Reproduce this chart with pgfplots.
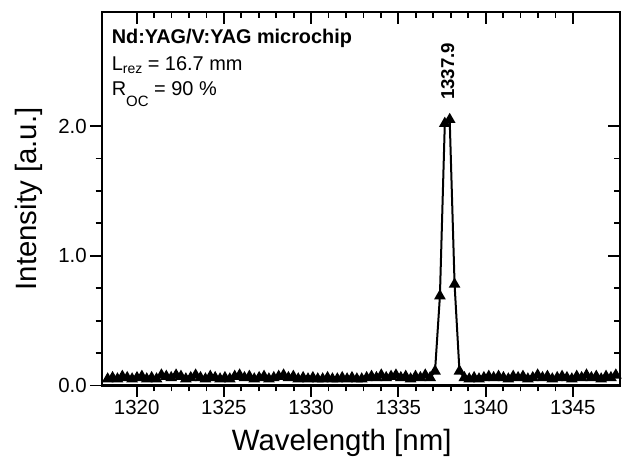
\documentclass[border=0pt]{standalone}
\usepackage{pgfplots}
\pgfplotsset{compat=1.18}
\usepackage{graphicx}
\usepackage{fontspec}
\setmainfont{Liberation Sans}

\pgfplotsset{
  common/.style={
    scale only axis, width=518bp, height=373bp,
    xmin=1318, xmax=1347.7, ymin=0, ymax=2.877,
    xtick={1320,1325,1330,1335,1340,1345}, minor x tick num=4,
    ytick={0,1,2}, minor y tick num=3,
    axis line style={line width=2.2bp},
    every tick/.style={line width=1.8bp, black},
    major tick length=11.5bp, minor tick length=6bp,
  }
}

\begin{document}
\begin{tikzpicture}
\begin{axis}[common,
  tick align=outside, xtick pos=bottom, ytick pos=left,
  /pgf/number format/assume math mode=true,
  /pgf/number format/1000 sep={},
  tick label style={font=\fontsize{20.5}{24}\selectfont},
  yticklabel style={/pgf/number format/fixed, /pgf/number format/fixed zerofill, /pgf/number format/precision=1},
  xlabel={Wavelength [nm]}, ylabel={Intensity [a.u.]},
  label style={font=\fontsize{29.5}{34}\selectfont, inner sep=0pt},
  xlabel style={at={(axis description cs:0.463,-0.173)}, anchor=base},
  ylabel style={at={(axis description cs:-0.1133,0.5)}, anchor=south},
  clip=false]
\addplot[black, line width=2bp, mark=triangle*, mark size=4.8bp, mark options={solid}] table {
x y
1318.34 0.05
1318.62 0.06
1318.90 0.05
1319.18 0.07
1319.46 0.06
1319.74 0.05
1320.02 0.06
1320.30 0.07
1320.58 0.05
1320.86 0.06
1321.14 0.05
1321.42 0.08
1321.70 0.07
1321.98 0.06
1322.26 0.08
1322.54 0.07
1322.82 0.05
1323.10 0.06
1323.38 0.08
1323.66 0.06
1323.94 0.05
1324.22 0.07
1324.50 0.06
1324.78 0.05
1325.06 0.06
1325.34 0.05
1325.62 0.07
1325.90 0.08
1326.18 0.06
1326.46 0.07
1326.74 0.05
1327.02 0.06
1327.30 0.07
1327.58 0.05
1327.86 0.06
1328.14 0.07
1328.42 0.08
1328.70 0.06
1328.98 0.07
1329.26 0.05
1329.54 0.06
1329.82 0.05
1330.10 0.06
1330.38 0.05
1330.66 0.05
1330.94 0.06
1331.22 0.05
1331.50 0.05
1331.78 0.06
1332.06 0.05
1332.34 0.06
1332.62 0.05
1332.90 0.05
1333.18 0.06
1333.46 0.07
1333.74 0.06
1334.02 0.08
1334.30 0.06
1334.58 0.07
1334.86 0.08
1335.14 0.06
1335.42 0.07
1335.70 0.05
1335.98 0.07
1336.26 0.06
1336.54 0.08
1336.82 0.06
1337.10 0.11
1337.38 0.69
1337.66 2.02
1337.94 2.05
1338.22 0.78
1338.50 0.11
1338.78 0.06
1339.06 0.05
1339.34 0.06
1339.62 0.05
1339.90 0.06
1340.18 0.07
1340.46 0.06
1340.74 0.07
1341.02 0.06
1341.30 0.05
1341.58 0.07
1341.86 0.06
1342.14 0.07
1342.42 0.05
1342.70 0.06
1342.98 0.08
1343.26 0.06
1343.54 0.07
1343.82 0.05
1344.10 0.06
1344.38 0.07
1344.66 0.06
1344.94 0.05
1345.22 0.07
1345.50 0.06
1345.78 0.08
1346.06 0.06
1346.34 0.07
1346.62 0.05
1346.90 0.07
1347.18 0.06
1347.46 0.08
};
\node[rotate=90, anchor=west, inner sep=0pt] at (axis cs:1337.83,2.2) {\resizebox{57bp}{!}{\bfseries 1337.9}};
\node[anchor=base west, inner sep=0pt] at (axis description cs:0.019,0.9169) {\resizebox{240bp}{!}{\bfseries Nd:YAG/V:YAG microchip}};
\node[anchor=base west, inner sep=0pt, font=\fontsize{20}{24}\selectfont] at (axis description cs:0.019,0.8453) {L\raisebox{-3.5bp}{\fontsize{14}{16}\selectfont rez} = 16.7 mm};
\node[anchor=base west, inner sep=0pt, font=\fontsize{20}{24}\selectfont] at (axis description cs:0.019,0.7783) {R\raisebox{-11bp}{\fontsize{15}{16}\selectfont OC} = 90 \%};
\end{axis}
\begin{axis}[common,
  tick align=inside, xtick pos=top, ytick pos=right,
  xticklabels={}, yticklabels={}]
\end{axis}
\pgfresetboundingbox
\useasboundingbox ([shift={(-101.7bp,-75.5bp)}]current axis.south west) rectangle ([shift={(2bp,12.3bp)}]current axis.north east);
\end{tikzpicture}
\end{document}
